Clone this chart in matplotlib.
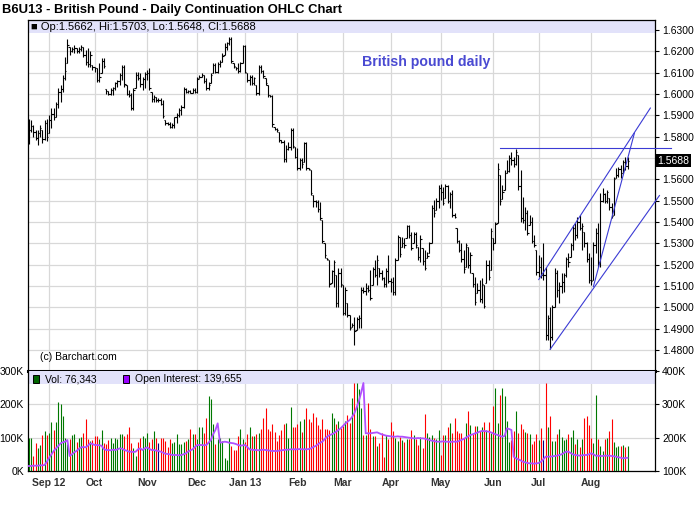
import numpy as np
import pandas as pd
import matplotlib
matplotlib.use("Agg")
import matplotlib.pyplot as plt
from matplotlib.patches import Rectangle
from matplotlib.transforms import blended_transform_factory

plt.rcParams['font.family'] = ['Liberation Sans', 'DejaVu Sans']

first_day = '2012-08-21'
last_day = '2013-08-23'

# daily prices, in 1/10000 USD
highs = [
    15885, 15880, 15855, 15830, 15830, 15855, 15830, 15880, 15885, 15900,
    15933, 15933, 15964, 16027, 16042, 16089, 16175, 16256, 16222, 16222,
    16230, 16214, 16222, 16230, 16222, 16206, 16214, 16200, 16136, 16128,
    16120, 16144, 16167, 16167, 16025, 16015, 16027, 16034, 16058, 16066,
    16097, 16136, 16136, 16042, 16019, 16003, 16027, 16105, 16105, 16097,
    16081, 16105, 16112, 16120, 16011, 15995, 15987, 15980, 15980, 15972,
    15878, 15870, 15870, 15862, 15894, 15910, 15933, 15948, 16034, 16027,
    16019, 16019, 16027, 16027, 16081, 16089, 16097, 16089, 16073, 16058,
    16097, 16144, 16144, 16152, 16160, 16191, 16237, 16245, 16269, 16269,
    16144, 16128, 16144, 16152, 16230, 16230, 16097, 16089, 16089, 16081,
    16042, 16136, 16136, 16112, 16073, 16042, 15995, 15995, 15847, 15839,
    15823, 15784, 15784, 15761, 15777, 15839, 15839, 15753, 15745, 15698,
    15698, 15777, 15777, 15652, 15644, 15527, 15503, 15503, 15495, 15409,
    15300, 15230, 15222, 15175, 15222, 15152, 15183, 15183, 15105, 15097,
    15019, 14964, 14925, 14956, 14956, 14964, 15097, 15097, 15112, 15105,
    15175, 15191, 15222, 15245, 15183, 15175, 15144, 15183, 15245, 15136,
    15144, 15230, 15339, 15331, 15331, 15323, 15386, 15386, 15355, 15355,
    15355, 15284, 15339, 15277, 15269, 15261, 15308, 15480, 15503, 15511,
    15573, 15578, 15566, 15578, 15573, 15542, 15550, 15441, 15370, 15316,
    15300, 15269, 15300, 15284, 15261, 15160, 15144, 15112, 15128, 15136,
    15105, 15222, 15222, 15370, 15323, 15402, 15675, 15620, 15573, 15644,
    15691, 15714, 15730, 15706, 15742, 15714, 15644, 15519, 15472, 15456,
    15433, 15425, 15339, 15269, 15245, 15237, 15300, 15191, 14964, 15003,
    15011, 15183, 15175, 15120, 15160, 15160, 15237, 15253, 15300, 15386,
    15394, 15425, 15433, 15394, 15355, 15308, 15253, 15237, 15308, 15370,
    15394, 15534, 15558, 15534, 15550, 15511, 15487, 15613, 15652, 15660,
    15667, 15691, 15706, 15703,
]
lows = [
    15765, 15820, 15800, 15785, 15760, 15800, 15770, 15785, 15780, 15815,
    15840, 15878, 15894, 15933, 15964, 16011, 16066, 16144, 16183, 16198,
    16190, 16190, 16190, 16200, 16175, 16136, 16128, 16128, 16112, 16105,
    16058, 16058, 16097, 16120, 16000, 15995, 15995, 15995, 16019, 16034,
    16042, 16066, 16034, 15995, 15987, 15925, 15925, 16027, 16066, 16034,
    16019, 16027, 16066, 16019, 15964, 15964, 15964, 15964, 15948, 15886,
    15855, 15855, 15839, 15839, 15839, 15862, 15894, 15902, 15933, 16003,
    16003, 16003, 16003, 16003, 16003, 16073, 16081, 16050, 16019, 16019,
    16050, 16097, 16097, 16097, 16128, 16152, 16183, 16206, 16230, 16144,
    16120, 16112, 16097, 16105, 16144, 16097, 16058, 16042, 16042, 16042,
    15995, 15995, 16097, 16073, 16042, 15987, 15987, 15847, 15831, 15823,
    15777, 15769, 15683, 15683, 15737, 15737, 15745, 15698, 15644, 15644,
    15652, 15683, 15644, 15644, 15527, 15472, 15472, 15448, 15409, 15300,
    15230, 15222, 15097, 15112, 15097, 15003, 15003, 15097, 14964, 14964,
    14956, 14894, 14909, 14823, 14894, 14902, 14902, 15066, 15058, 15073,
    15034, 15105, 15144, 15105, 15144, 15128, 15097, 15097, 15112, 15073,
    15058, 15058, 15222, 15238, 15284, 15277, 15323, 15323, 15269, 15300,
    15277, 15222, 15214, 15198, 15175, 15230, 15253, 15300, 15425, 15456,
    15464, 15503, 15480, 15511, 15488, 15464, 15425, 15417, 15300, 15261,
    15214, 15160, 15191, 15183, 15160, 15097, 15011, 15066, 15027, 15019,
    14995, 15112, 15128, 15175, 15269, 15300, 15394, 15480, 15510, 15550,
    15628, 15636, 15667, 15659, 15667, 15550, 15402, 15394, 15362, 15339,
    15386, 15300, 15284, 15152, 15144, 15136, 15128, 14847, 14847, 14803,
    14847, 15003, 15050, 15019, 15066, 15073, 15144, 15190, 15237, 15269,
    15316, 15323, 15362, 15269, 15284, 15214, 15112, 15105, 15128, 15253,
    15190, 15190, 15495, 15487, 15487, 15456, 15417, 15433, 15605, 15612,
    15605, 15628, 15644, 15648,
]
closes = [
    15830, 15850, 15820, 15795, 15815, 15840, 15790, 15865, 15800, 15880,
    15905, 15890, 15955, 16010, 16025, 16075, 16110, 16230, 16200, 16210,
    16215, 16200, 16210, 16220, 16185, 16150, 16140, 16185, 16125, 16120,
    16065, 16080, 16155, 16130, 16015, 16000, 16020, 16030, 16050, 16060,
    16090, 16125, 16045, 16000, 15995, 15935, 16020, 16090, 16075, 16045,
    16070, 16095, 16100, 16030, 15975, 15985, 15970, 15970, 15955, 15895,
    15862, 15860, 15845, 15855, 15890, 15900, 15925, 15940, 16025, 16010,
    16015, 16005, 16020, 16010, 16070, 16080, 16090, 16060, 16030, 16040,
    16090, 16135, 16105, 16140, 16150, 16180, 16220, 16240, 16260, 16155,
    16130, 16120, 16110, 16145, 16225, 16105, 16065, 16080, 16050, 16075,
    16005, 16125, 16110, 16085, 16050, 15995, 15990, 15860, 15838, 15830,
    15785, 15775, 15695, 15740, 15750, 15830, 15755, 15705, 15655, 15690,
    15670, 15770, 15655, 15648, 15535, 15500, 15495, 15460, 15420, 15310,
    15245, 15228, 15110, 15170, 15210, 15020, 15160, 15110, 14975, 15080,
    14965, 14905, 14915, 14890, 14945, 14950, 15080, 15075, 15090, 15080,
    15045, 15180, 15150, 15220, 15160, 15135, 15110, 15170, 15125, 15120,
    15070, 15220, 15330, 15250, 15300, 15290, 15380, 15340, 15280, 15345,
    15290, 15235, 15320, 15215, 15185, 15240, 15300, 15465, 15440, 15500,
    15560, 15540, 15490, 15570, 15500, 15530, 15435, 15425, 15310, 15270,
    15225, 15180, 15290, 15200, 15245, 15110, 15025, 15080, 15040, 15110,
    15005, 15200, 15140, 15360, 15300, 15390, 15650, 15500, 15540, 15630,
    15640, 15700, 15690, 15670, 15730, 15570, 15420, 15410, 15440, 15350,
    15400, 15310, 15290, 15165, 15190, 15150, 15150, 14870, 14950, 14860,
    15000, 15160, 15080, 15100, 15120, 15150, 15225, 15210, 15290, 15370,
    15340, 15400, 15370, 15380, 15300, 15225, 15130, 15125, 15290, 15350,
    15210, 15500, 15530, 15500, 15540, 15470, 15430, 15600, 15620, 15650,
    15630, 15680, 15662, 15688,
]
first_open = 15790

# daily volume and open interest, thousands of contracts
volume_k = [
    100, 100, 45, 85, 70, 78, 108, 120, 108, 115,
    148, 124, 148, 207, 200, 165, 98, 80, 95, 108,
    112, 87, 100, 102, 115, 157, 95, 90, 92, 105,
    105, 95, 122, 85, 80, 92, 100, 85, 98, 95,
    110, 110, 105, 110, 132, 85, 70, 45, 88, 100,
    105, 100, 115, 88, 95, 120, 98, 85, 100, 100,
    90, 73, 96, 85, 86, 110, 80, 80, 88, 90,
    97, 127, 110, 110, 95, 133, 132, 115, 160, 225,
    215, 140, 80, 95, 98, 90, 40, 33, 100, 75,
    62, 62, 105, 125, 95, 87, 110, 133, 105, 105,
    110, 115, 125, 160, 190, 125, 120, 140, 116, 90,
    107, 122, 140, 145, 100, 192, 132, 132, 140, 150,
    117, 157, 190, 155, 147, 175, 163, 137, 125, 155,
    125, 127, 123, 175, 160, 140, 150, 128, 135, 150,
    168, 143, 218, 265, 265, 245, 190, 108, 108, 203,
    126, 106, 106, 75, 85, 113, 43, 108, 96, 147,
    121, 98, 91, 103, 93, 86, 95, 95, 123, 109,
    95, 78, 103, 68, 171, 115, 103, 108, 98, 95,
    123, 48, 108, 108, 131, 143, 113, 159, 121, 115,
    113, 98, 143, 181, 137, 115, 136, 136, 120, 133,
    147, 123, 147, 113, 196, 250, 145, 228, 250, 225,
    151, 88, 93, 120, 180, 113, 141, 125, 116, 113,
    110, 81, 91, 112, 93, 128, 93, 265, 132, 165,
    91, 89, 112, 125, 102, 93, 95, 111, 103, 123,
    80, 95, 73, 95, 159, 165, 137, 100, 83, 228,
    95, 75, 60, 95, 98, 121, 156, 86, 71, 75,
    75, 78, 72, 76.343,
]
open_interest_k = [
    115, 115, 116, 116, 116, 117, 117, 118,
    128, 140, 150, 160, 168, 175, 183, 186, 188, 193,
    145, 150, 156, 160, 166, 171, 172, 171, 176, 183,
    181, 178, 178, 177, 176, 166, 163, 163, 162, 164,
    163, 165, 168, 167, 163, 161, 158, 158, 157, 158,
    165, 168, 163, 168, 171, 166, 163, 163, 161, 160,
    158, 155, 152, 151, 150, 148, 148, 148, 147, 148,
    150, 153, 158, 162, 165, 172, 178, 178, 178, 177,
    178, 185, 193, 210, 223, 243, 185, 186, 188, 187,
    185, 184, 183, 181, 178, 176, 177, 178, 172, 165,
    164, 163, 163, 162, 163, 164, 163, 162, 161, 160,
    160, 160, 161, 162, 163, 164, 164, 165, 165, 165,
    165, 166, 165, 165, 165, 166, 168, 172, 175, 180,
    185, 188, 196, 203, 207, 210, 213, 218, 223, 228,
    235, 242, 248, 253, 262, 273, 290, 310, 335, 364,
    213, 213, 213, 214, 215, 216, 213, 210, 208, 206,
    205, 204, 203, 203, 204, 203, 203, 202, 201, 200,
    199, 198, 198, 199, 198, 198, 197, 195, 193, 191,
    190, 188, 188, 188, 189, 188, 188, 187, 188, 188,
    188, 190, 193, 196, 200, 204, 208, 210, 213, 215,
    218, 220, 220, 219, 218, 216, 213, 210, 208, 205,
    203, 205, 228, 226, 223, 143, 138, 135, 132, 128,
    126, 124, 123, 123, 122, 123, 124, 128, 135, 143,
    143, 143, 144, 145, 146, 148, 150, 154, 158, 158,
    154, 150, 148, 147, 146, 147, 148, 148, 150, 153,
    150, 146, 146, 145, 145, 146, 146, 146, 145, 144,
    143, 141, 140, 138, 139, 139.655,
]

month_labels = ['Sep 12', 'Oct', 'Nov', 'Dec', 'Jan 13', 'Feb', 'Mar',
                'Apr', 'May', 'Jun', 'Jul', 'Aug']

# drawn trendlines: start date, start price, end date, end price
trendlines = [
    ('2013-06-06', 1.5747, '2013-09-19', 1.5747),
    ('2013-07-01', 1.5130, '2013-09-06', 1.5934),
    ('2013-07-08', 1.4803, '2013-09-12', 1.5524),
    ('2013-08-02', 1.5097, '2013-08-28', 1.5816),
]

dates = pd.bdate_range(first_day, last_day)
n = len(dates)
assert len(highs) == len(lows) == len(closes) == len(volume_k) == len(open_interest_k) == n

hi = np.array(highs) / 10000
lo = np.array(lows) / 10000
cl = np.array(closes) / 10000
op = np.clip(np.r_[first_open, closes[:-1]] / 10000, lo, hi)
x = np.arange(n)

months = dates.to_period('M')
month_pos = np.flatnonzero(months[1:] != months[:-1]) + 1


def pos(day):
    return np.busday_count(first_day, day)


W, H = 700, 512
fig = plt.figure(figsize=(W / 100, H / 100), dpi=100)
left, right = 28 / W, 655 / W
ax = fig.add_axes([left, 1 - 371 / H, right - left, 351 / H])
axv = fig.add_axes([left, 1 - 471 / H, right - left, 100 / H])
axo = axv.twinx()

grid_col = '#d8d8d8'
xlim = (-0.3, 275.05)

# price panel
ax.set_xlim(*xlim)
ax.set_ylim(1.47013, 1.63469)
ax.set_axisbelow(True)
ax.set_xticks(month_pos)
ax.set_yticks(np.round(np.arange(1.48, 1.6301, 0.01), 2))
ax.set_yticklabels(['' if abs(v - 1.57) < 1e-6 else f'{v:.4f}' for v in ax.get_yticks()])
ax.yaxis.tick_right()
ax.tick_params(axis='y', direction='out', length=3, width=0.8, pad=2, labelsize=7.5)
ax.tick_params(axis='x', length=0, labelbottom=False)
ax.grid(True, color=grid_col, lw=0.9)
for s in ax.spines.values():
    s.set_linewidth(0.9)
ax.spines['bottom'].set_linewidth(2.2)

ax.add_patch(Rectangle((0, 1 - 13 / 351), 1, 13 / 351, transform=ax.transAxes,
                       facecolor='#e2e2fa', edgecolor='none', zorder=2))

ax.vlines(x, lo, hi, color='black', lw=0.8, zorder=3)
ax.hlines(op, x - 0.6, x, color='black', lw=0.8, zorder=3)
ax.hlines(cl, x, x + 0.6, color='black', lw=0.8, zorder=3)

for d0, p0, d1, p1 in trendlines:
    ax.plot([pos(d0), pos(d1)], [p0, p1], color='#3b3bd4', lw=0.8,
            zorder=4, clip_on=False)

yt = blended_transform_factory(ax.transAxes, ax.transData)
ax.text(1.004, cl[-1], f'{cl[-1]:.4f}', transform=yt, color='white', fontsize=7.5,
        va='center', ha='left', zorder=6,
        bbox=dict(facecolor='black', edgecolor='none', pad=1.2))

ax.text(0.004, 1 - 6.5 / 351,
        f'\u25a0 Op:{op[-1]:.4f}, Hi:{hi[-1]:.4f}, Lo:{lo[-1]:.4f}, Cl:{cl[-1]:.4f}',
        transform=ax.transAxes, fontsize=8, va='center', ha='left', zorder=5)
ax.text(12 / 627, 14 / 351, '(c) Barchart.com', transform=ax.transAxes,
        fontsize=7.5, va='center', ha='left', zorder=5)
ax.text(334 / 627, 1 - 42 / 351, 'British pound daily', transform=ax.transAxes,
        fontsize=10.2, fontweight='bold', color='#4a4ad2', va='center', ha='left')

# volume panel
chg = np.diff(np.r_[op[0], cl])
vcol = np.where(chg > 0, '#007800', np.where(chg < 0, '#ff0000', '#000080'))
axv.set_xlim(*xlim)
axv.set_ylim(0, 300)
axv.set_axisbelow(True)
axv.vlines(x, 0, volume_k, colors=vcol, lw=0.8, zorder=3)
axv.set_yticks([0, 100, 200, 300])
axv.set_yticklabels(['0K', '100K', '200K', '300K'])
axv.tick_params(axis='y', length=0, pad=3, labelsize=7.5)
axv.set_xticks(month_pos)
axv.set_xticklabels(month_labels)
axv.tick_params(axis='x', length=0, pad=5, labelsize=7.5, labelcolor='#333333')
for t in axv.get_xticklabels():
    t.set_fontweight('bold')
axv.grid(True, color=grid_col, lw=0.9)
for s in axv.spines.values():
    s.set_linewidth(0.9)
axv.spines['top'].set_visible(False)
axv.add_patch(Rectangle((0, 0.87), 1, 0.13, transform=axv.transAxes,
                        facecolor='#e2e2fa', edgecolor='none', zorder=2))

axo.set_ylim(100, 400)
axo.plot(x, open_interest_k, color='#b050ff', lw=1.3, zorder=4)
axo.set_yticks([100, 200, 300, 400])
axo.set_yticklabels(['100K', '200K', '300K', '400K'])
axo.tick_params(axis='y', direction='out', length=3, width=0.8, pad=2, labelsize=7.5)
for s in axo.spines.values():
    s.set_visible(False)

axv.add_patch(Rectangle((5 / 627, 0.885), 6 / 627, 0.075, transform=axv.transAxes,
                        facecolor='#006400', edgecolor='black', lw=0.7, zorder=5))
axv.text(17 / 627, 0.92, f'Vol: {round(volume_k[-1] * 1000):,}', transform=axv.transAxes,
         fontsize=7.5, va='center', ha='left', zorder=5)
axv.add_patch(Rectangle((95 / 627, 0.885), 6 / 627, 0.075, transform=axv.transAxes,
                        facecolor='#9900ff', edgecolor='black', lw=0.7, zorder=5))
axv.text(107 / 627, 0.92, f'Open Interest: {round(open_interest_k[-1] * 1000):,}',
         transform=axv.transAxes, fontsize=7.5, va='center', ha='left', zorder=5)

fig.text(2 / W, 1 - 10 / H, 'B6U13 - British Pound - Daily Continuation OHLC Chart',
         fontsize=9.4, fontweight='bold', va='center', ha='left')

fig.savefig('out.png', dpi=100, facecolor='white')
